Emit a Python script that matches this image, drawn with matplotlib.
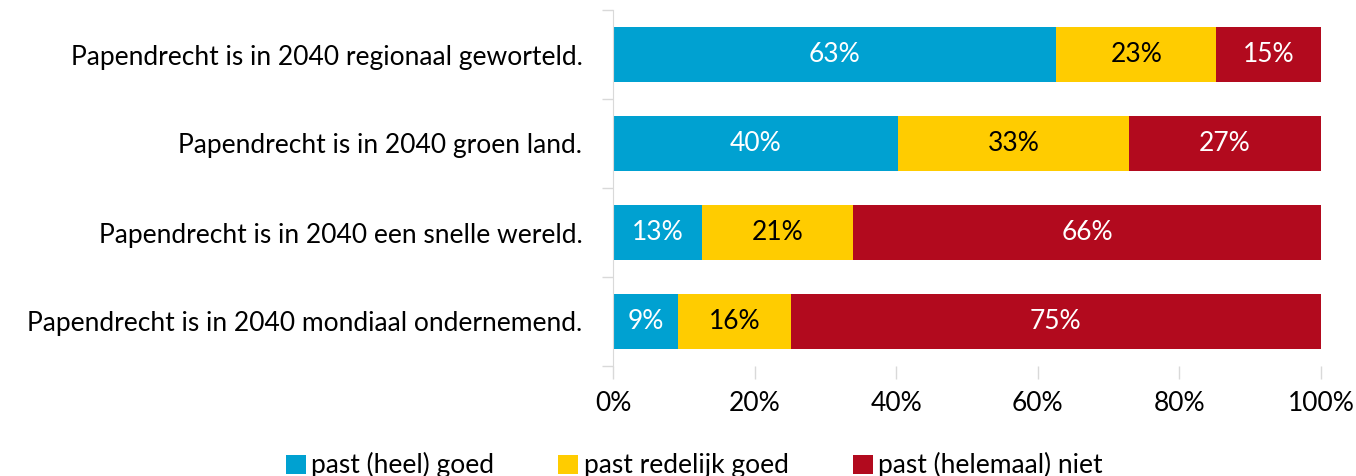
import matplotlib.pyplot as plt
import numpy as np

plt.rcParams['font.family'] = ['Lato', 'DejaVu Sans']

categories = ['Papendrecht is in 2040 regionaal geworteld.',
              'Papendrecht is in 2040 groen land.',
              'Papendrecht is in 2040 een snelle wereld.',
              'Papendrecht is in 2040 mondiaal ondernemend.']
series = ['past (heel) goed', 'past redelijk goed', 'past (helemaal) niet']
goed = [62.6, 40.3, 12.6, 9.2]
redelijk = [22.6, 32.6, 21.3, 15.9]
niet = [14.8, 27.1, 66.1, 74.9]
labels = [['63%', '40%', '13%', '9%'],
          ['23%', '33%', '21%', '16%'],
          ['15%', '27%', '66%', '75%']]
colors = ['#00A1D1', '#FFCC00', '#B20A1E']
text_colors = ['white', 'black', 'white']

fig = plt.figure(figsize=(13.56, 4.76), dpi=100)
ax = fig.add_axes([613 / 1356, 1 - 366 / 476, 708 / 1356, 356 / 476])

y = np.arange(len(categories))
left = np.zeros(len(categories))
for vals, lab, color, tc, name in zip([goed, redelijk, niet], labels, colors, text_colors, series):
    vals = np.array(vals)
    ax.barh(y, vals, left=left, height=0.62, color=color, label=name)
    for yi, v, l, t in zip(y, vals, left, lab):
        ax.text(l + v / 2, yi, t, ha='center', va='center', color=tc, fontsize=19)
    left += vals

ax.set_ylim(len(categories) - 0.5, -0.5)
ax.set_xlim(0, 100)
ax.set_yticks(y)
ax.set_yticklabels(categories, fontsize=19)
ax.set_yticks(np.arange(len(categories) + 1) - 0.5, minor=True)
ax.tick_params(axis='y', which='major', length=0, pad=22)
ax.tick_params(axis='y', which='minor', length=8, color='#d9d9d9', width=1)
ax.set_xticks(np.arange(0, 101, 20))
ax.set_xticklabels([f'{v}%' for v in range(0, 101, 20)], fontsize=19)
ax.tick_params(axis='x', length=9, color='#d9d9d9', width=1, pad=9)
for s in ['top', 'right', 'bottom']:
    ax.spines[s].set_visible(False)
ax.spines['left'].set_color('#d9d9d9')

fig.legend(loc='lower center', bbox_to_anchor=(0.512, -0.055), ncol=3, frameon=False,
           fontsize=19, handlelength=0.75, handleheight=0.75, handletextpad=0.2,
           columnspacing=2.45)

fig.savefig('out.png', dpi=100)
